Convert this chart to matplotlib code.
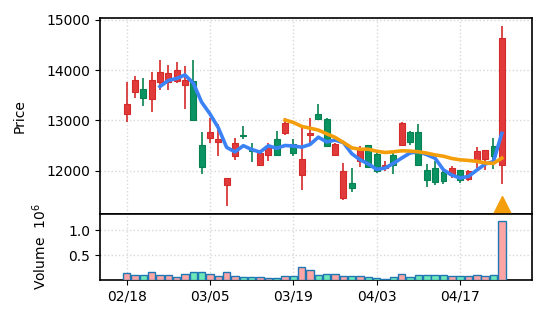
import matplotlib
matplotlib.use('Agg')
import matplotlib.pyplot as plt
import numpy as np
import pandas as pd

# daily OHLC (index 0 = 02/18)
opens = [13134, 13566, 13634, 13420, 13754, 13754, 13786, 13700, 13786, 12506,
         12654, 12574, 11720, 12286, 12714, 12430, 12120, 12306, 12634, 12754,
         12534, 11914, 12706, 13134, 13020, 12320, 11454, 11754, 12186, 12506,
         12340, 12050, 12320, 12506, 12766, 12766, 12020, 12054, 11966, 11920,
         12006, 11834, 12220, 12234, 12500, 12120]
highs = [13766, 13886, 13840, 13966, 14200, 14100, 14154, 14074, 14200, 12774,
         13054, 12920, 11854, 12640, 12886, 12554, 12420, 12554, 12780, 13046,
         12620, 12854, 13054, 13320, 13054, 12554, 12154, 12054, 12486, 12520,
         12354, 12200, 12354, 12966, 12786, 12920, 12140, 12200, 12020, 12086,
         12020, 12020, 12466, 12420, 12640, 14874]
lows = [12966, 13454, 13286, 13174, 13600, 13606, 13740, 13234, 13000, 11934,
        12554, 12286, 11306, 12220, 12620, 12166, 12086, 12186, 12306, 12700,
        12286, 11606, 12500, 13020, 12466, 12286, 11406, 11566, 12074, 12054,
        11954, 11986, 11940, 12486, 12520, 12120, 11674, 11720, 11740, 11846,
        11754, 11800, 12054, 12020, 12034, 11734]
closes = [13334, 13806, 13454, 13806, 13966, 13940, 14006, 13800, 13000, 12066,
          12774, 12620, 11854, 12554, 12680, 12400, 12354, 12486, 12306, 12954,
          12354, 12234, 12754, 13034, 12486, 12534, 11986, 11654, 12420, 12074,
          11986, 12120, 12120, 12954, 12574, 12120, 11820, 11766, 11800, 12054,
          11820, 11986, 12386, 12406, 12300, 14634]
volumes = [0.138, 0.099, 0.099, 0.158, 0.099, 0.099, 0.06, 0.118, 0.158, 0.158,
           0.118, 0.079, 0.158, 0.086, 0.06, 0.06, 0.06, 0.04, 0.035, 0.086,
           0.086, 0.263, 0.197, 0.099, 0.118, 0.118, 0.079, 0.079, 0.079, 0.06,
           0.04, 0.03, 0.06, 0.118, 0.06, 0.099, 0.099, 0.099, 0.099, 0.079,
           0.079, 0.079, 0.099, 0.079, 0.099, 1.18]
tick_pos = [0, 10, 20, 30, 40]
tick_labels = ['02/18', '03/05', '03/19', '04/03', '04/17']
signal_idx = [45]
signal_price = [11320]

plt.rcParams['font.size'] = 10

up_face, up_edge = '#e03a3a', '#d42a2a'
dn_face, dn_edge = '#0a9463', '#07814f'

x = np.arange(len(closes))
close_s = pd.Series(closes)
ma5 = close_s.rolling(5).mean()
ma20 = close_s.rolling(20).mean()

fig = plt.figure(figsize=(5.46, 3.25), dpi=100)
ax = fig.add_axes([0.183, 0.342, 0.791, 0.603])
axv = fig.add_axes([0.183, 0.138, 0.791, 0.204], sharex=ax)

for i in range(len(x)):
    up = closes[i] >= opens[i]
    fc, ec = (up_face, up_edge) if up else (dn_face, dn_edge)
    ax.vlines(x[i], lows[i], highs[i], color=ec, lw=1.2, zorder=2)
    lo = min(opens[i], closes[i])
    h = max(abs(closes[i] - opens[i]), 20)
    ax.bar(x[i], h, bottom=lo, width=0.7, color=fc, edgecolor=ec, lw=0.8, zorder=3)

ax.plot(x, ma5, color='#3b82f6', lw=2.6, zorder=4)
ax.plot(x, ma20, color='#f59e0b', lw=2.6, zorder=4)
ax.plot(signal_idx, signal_price, '^', color='#f59e0b', ms=13, zorder=5)

ax.set_ylim(11140, 15040)
ax.set_yticks([12000, 13000, 14000, 15000])
ax.set_ylabel('Price', labelpad=14)
ax.grid(True, linestyle=':', color='#d8d8d8', lw=1)
ax.tick_params(axis='x', labelbottom=False)

vcols = ['#fca5a5' if c >= o else '#6ee7b7' for o, c in zip(opens, closes)]
axv.bar(x, volumes, width=0.9, color=vcols, edgecolor='#1f77b4', lw=1, zorder=3)
axv.set_ylim(0, 1.33)
axv.set_yticks([0.5, 1.0])
axv.set_ylabel('Volume  $10^6$', labelpad=14)
axv.grid(True, linestyle=':', color='#d8d8d8', lw=1)
axv.set_xticks(tick_pos)
axv.set_xticklabels(tick_labels)
axv.set_xlim(-3.2, 48.6)

for a in (ax, axv):
    for s in a.spines.values():
        s.set_linewidth(1.2)

fig.savefig('out.png', dpi=100)
